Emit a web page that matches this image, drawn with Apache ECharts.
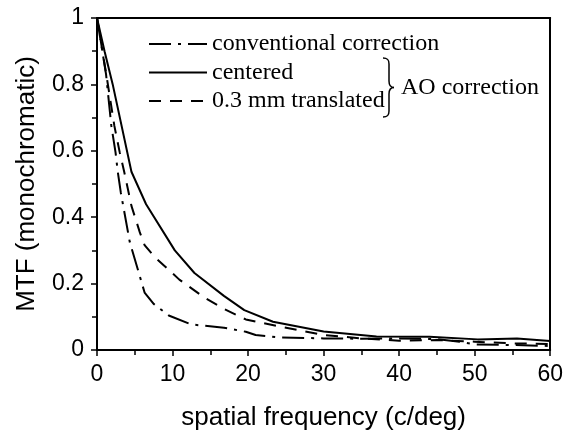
<!DOCTYPE html>
<html>
<head>
<meta charset="utf-8">
<script src="https://cdn.jsdelivr.net/npm/echarts@6/dist/echarts.min.js"></script>
<style>html,body{margin:0;padding:0;background:#fff}#c{width:566px;height:436px}</style>
</head>
<body>
<div id="c"></div>
<script>
// Series names
var seriesNames = ['conventional correction', 'centered', '0.3 mm translated'];

// conventional correction (dash-dot)
var convFreq = [0, 1.2, 1.9, 2.45, 2.75, 3.16, 4.34, 6.3, 7.5, 9.5, 12.5, 16.8, 19.7, 21, 24, 30, 35, 40, 45, 48, 50, 55, 60];
var convMTF  = [1, 0.83, 0.675, 0.596, 0.537, 0.473, 0.325, 0.173, 0.139, 0.104, 0.077, 0.067, 0.055, 0.045, 0.038, 0.035, 0.034, 0.035, 0.033, 0.025, 0.017, 0.015, 0.012];

// AO corrected, centered (solid)
var centFreq = [0, 1, 2.08, 4.56, 6.5, 10.3, 12.9, 16.8, 19.5, 23.3, 30, 37, 44, 50.4, 55.6, 60];
var centMTF  = [1, 0.9, 0.8, 0.537, 0.439, 0.30, 0.232, 0.163, 0.12, 0.085, 0.056, 0.041, 0.04, 0.032, 0.035, 0.027];

// AO corrected, 0.3 mm translated (dashed)
var transFreq = [0, 1.3, 2.3, 3.0, 3.6, 4.56, 5.66, 6.3, 7.6, 10.9, 14.2, 16.8, 19.7, 24.3, 30, 35, 40, 45, 50, 55, 60];
var transMTF  = [1, 0.82, 0.675, 0.596, 0.537, 0.434, 0.355, 0.316, 0.281, 0.212, 0.158, 0.124, 0.092, 0.07, 0.045, 0.035, 0.028, 0.03, 0.025, 0.02, 0.018];

// Axis ticks
var xTicks = {min: 0, max: 60, interval: 10};
var yTicks = {min: 0, max: 1, interval: 0.2};

function zip(xs, ys) { return xs.map(function (x, i) { return [x, ys[i]]; }); }

var sansFont = '"Liberation Sans", Arial, sans-serif';
var serifFont = '"Liberation Serif", "Times New Roman", serif';

var braceStyle = {stroke: '#000', lineWidth: 1.5, fill: null};
var chart = echarts.init(document.getElementById('c'), null, {renderer: 'canvas'});
var axisLineStyle = {color: '#000', width: 2};
chart.setOption({
  animation: false,
  backgroundColor: '#fff',
  grid: {left: 97, right: 13, top: 18, bottom: 79, containLabel: false},
  legend: {
    orient: 'vertical',
    left: 143,
    top: 25,
    itemWidth: 58,
    itemHeight: 14,
    itemGap: 0.5,
    data: seriesNames,
    itemStyle: {opacity: 0},
    textStyle: {fontFamily: serifFont, fontSize: 24, color: '#000', lineHeight: 28},
    selectedMode: false
  },
  xAxis: [{
    type: 'value', min: xTicks.min, max: xTicks.max, interval: xTicks.interval,
    name: 'spatial frequency (c/deg)', nameLocation: 'middle', nameGap: 55,
    nameTextStyle: {fontFamily: sansFont, fontSize: 26, color: '#000'},
    axisLine: {lineStyle: axisLineStyle},
    axisTick: {show: true, inside: false, length: 6, lineStyle: {color: '#000', width: 1.5}},
    minorTick: {show: true, splitNumber: 2, length: 5, lineStyle: {color: '#000', width: 1.5}},
    axisLabel: {fontFamily: sansFont, fontSize: 23, color: '#000', margin: 13},
    splitLine: {show: false}
  }, {
    type: 'value', position: 'top', min: xTicks.min, max: xTicks.max,
    axisLine: {show: true, onZero: false, lineStyle: axisLineStyle},
    axisTick: {show: false}, axisLabel: {show: false}, splitLine: {show: false}
  }],
  yAxis: [{
    type: 'value', min: yTicks.min, max: yTicks.max, interval: yTicks.interval,
    name: 'MTF (monochromatic)', nameLocation: 'middle', nameGap: 57,
    nameTextStyle: {fontFamily: sansFont, fontSize: 26, color: '#000'},
    axisLine: {show: true, lineStyle: axisLineStyle},
    axisTick: {show: true, inside: false, length: 6, lineStyle: {color: '#000', width: 1.5}},
    minorTick: {show: true, splitNumber: 2, length: 5, lineStyle: {color: '#000', width: 1.5}},
    axisLabel: {fontFamily: sansFont, fontSize: 23, color: '#000', margin: 13},
    splitLine: {show: false}
  }, {
    type: 'value', position: 'right', min: yTicks.min, max: yTicks.max,
    axisLine: {show: true, onZero: false, lineStyle: axisLineStyle},
    axisTick: {show: false}, axisLabel: {show: false}, splitLine: {show: false}
  }],
  series: [{
    name: seriesNames[0], type: 'line', symbol: 'none', smooth: false,
    data: zip(convFreq, convMTF),
    lineStyle: {color: '#000', width: 2, type: [22, 7, 3, 7]},
    itemStyle: {color: '#000'}
  }, {
    name: seriesNames[1], type: 'line', symbol: 'none', smooth: false,
    data: zip(centFreq, centMTF),
    lineStyle: {color: '#000', width: 2, type: 'solid'},
    itemStyle: {color: '#000'}
  }, {
    name: seriesNames[2], type: 'line', symbol: 'none', smooth: false,
    data: zip(transFreq, transMTF),
    lineStyle: {color: '#000', width: 2, type: [12, 9]},
    itemStyle: {color: '#000'}
  }],
  graphic: [
    {type: 'bezierCurve', shape: {x1: 383, y1: 58, cpx1: 388, cpy1: 58, cpx2: 389, cpy2: 60, x2: 389, y2: 64}, style: braceStyle},
    {type: 'line', shape: {x1: 389, y1: 64, x2: 389, y2: 81}, style: braceStyle},
    {type: 'bezierCurve', shape: {x1: 389, y1: 81, cpx1: 389, cpy1: 85, cpx2: 390, cpy2: 87.5, x2: 394, y2: 87.5}, style: braceStyle},
    {type: 'bezierCurve', shape: {x1: 394, y1: 87.5, cpx1: 390, cpy1: 87.5, cpx2: 389, cpy2: 90, x2: 389, y2: 94}, style: braceStyle},
    {type: 'line', shape: {x1: 389, y1: 94, x2: 389, y2: 111}, style: braceStyle},
    {type: 'bezierCurve', shape: {x1: 389, y1: 111, cpx1: 389, cpy1: 115, cpx2: 388, cpy2: 117, x2: 383, y2: 117}, style: braceStyle},
    {
      type: 'text',
      x: 401, y: 88,
      style: {text: 'AO correction', font: '24px ' + serifFont, fill: '#000', verticalAlign: 'middle'}
    }
  ]
});
</script>
</body>
</html>
